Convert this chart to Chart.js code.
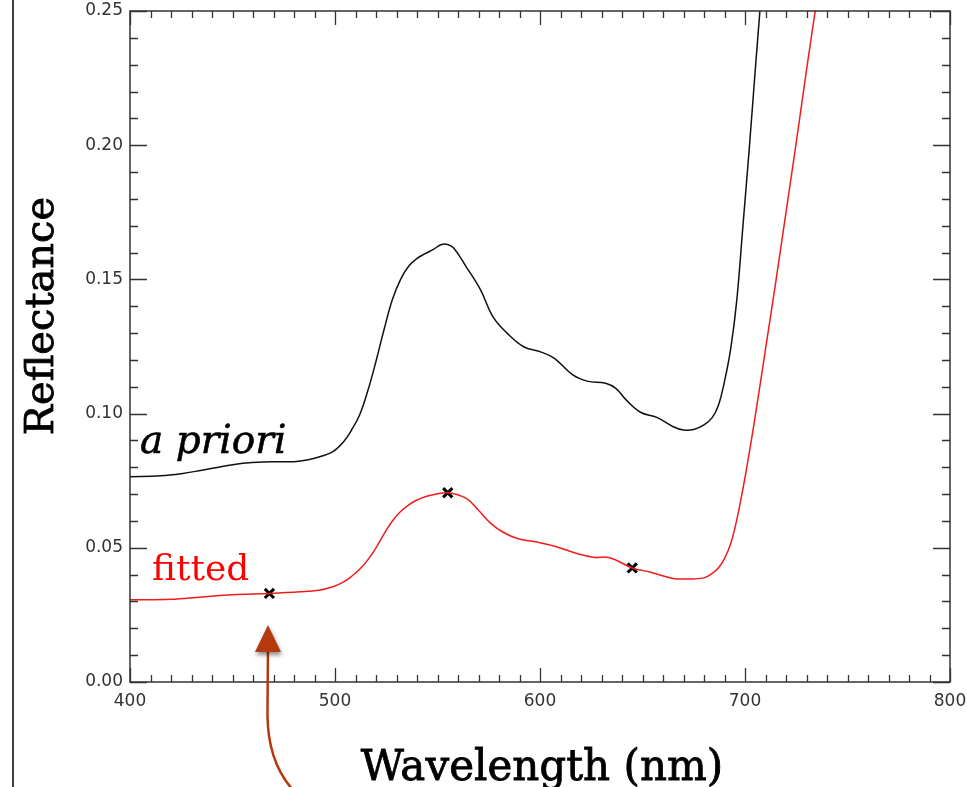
<!DOCTYPE html>
<html>
<head>
<meta charset="utf-8">
<script src="https://cdn.jsdelivr.net/npm/chart.js@4/dist/chart.umd.min.js"></script>
<style>
  body { margin: 0; background: #fff; }
  canvas { display: block; }
</style>
</head>
<body>
<canvas id="reflChart" width="967" height="787"></canvas>
<script>
// a priori spectrum (black)
var aprioriNm = [400, 415, 425, 435, 445, 455, 465, 480, 487, 493, 499, 504, 508, 512, 516, 520, 524, 528, 532, 536, 540, 544, 548, 552, 555, 558, 564, 571, 577, 584, 592, 600, 607, 616, 623, 632, 637, 642, 649, 657, 665, 670, 675, 680, 684, 687, 690, 693, 696, 699, 702, 705, 708];
var aprioriRefl = [0.0765, 0.0768, 0.0776, 0.0789, 0.0803, 0.0815, 0.0820, 0.0821, 0.0828, 0.0840, 0.0858, 0.0893, 0.0938, 0.0995, 0.1085, 0.1195, 0.1315, 0.1425, 0.1500, 0.1550, 0.1578, 0.1596, 0.1612, 0.1630, 0.1630, 0.1616, 0.1547, 0.1461, 0.1361, 0.1299, 0.1249, 0.1231, 0.1206, 0.1144, 0.1121, 0.1113, 0.1094, 0.1051, 0.1005, 0.0986, 0.0951, 0.0939, 0.0941, 0.0958, 0.0985, 0.1030, 0.1120, 0.1240, 0.1423, 0.170, 0.198, 0.228, 0.257];

// fitted spectrum (red)
var fittedNm = [400, 420, 435, 450, 468, 483, 492, 499, 504, 508, 512, 516, 520, 524, 528, 532, 536, 540, 544, 548, 555, 564, 570, 576, 582, 589, 600, 608, 618, 626, 634, 645, 654, 665, 672, 680, 684, 687, 690, 693, 696, 699, 702, 706, 710, 715, 720, 725, 730, 736];
var fittedRefl = [0.0306, 0.0308, 0.0317, 0.0325, 0.0330, 0.0336, 0.0342, 0.0355, 0.0372, 0.0393, 0.0420, 0.0455, 0.0500, 0.0553, 0.0600, 0.0635, 0.0660, 0.0678, 0.0690, 0.0698, 0.0705, 0.0684, 0.0640, 0.0591, 0.0558, 0.0535, 0.0519, 0.0504, 0.0479, 0.0465, 0.0463, 0.0425, 0.0409, 0.0386, 0.0384, 0.0388, 0.0405, 0.0425, 0.0460, 0.0515, 0.0605, 0.0720, 0.0850, 0.104, 0.124, 0.149, 0.175, 0.201, 0.228, 0.259];

// fit points (x marks)
var markNm = [468, 555, 645];
var markRefl = [0.0330, 0.0705, 0.0425];

// axes
var xTicks = [400, 500, 600, 700, 800];
var yTicks = [0.00, 0.05, 0.10, 0.15, 0.20, 0.25];

function toPoints(xs, ys) {
    return xs.map(function (x, i) { return { x: x, y: ys[i] }; });
}

// viết chữ có viền mảnh cho đậm hơn
function heavyText(ctx, txt, x, y, w) {
    ctx.fillText(txt, x, y);
    ctx.lineWidth = w;
    ctx.strokeStyle = ctx.fillStyle;
    ctx.strokeText(txt, x, y);
}

// khung, vạch chia, chữ và mũi tên
var decorPlugin = {
    id: 'decor',
    afterDatasetsDraw: function (chart) {
        var ctx = chart.ctx;
        var a = chart.chartArea;
        var xs = chart.scales.x, ys = chart.scales.y;
        ctx.save();

        // viền trái của slide
        ctx.strokeStyle = '#000';
        ctx.lineWidth = 1.5;
        ctx.beginPath();
        ctx.moveTo(13, 0);
        ctx.lineTo(13, chart.height);
        ctx.stroke();

        // khung
        ctx.strokeStyle = '#333';
        ctx.lineWidth = 1.5;
        ctx.strokeRect(a.left, a.top, a.right - a.left, a.bottom - a.top);

        // vạch chia trục x
        ctx.lineWidth = 1.3;
        ctx.beginPath();
        for (var nm = 400; nm <= 800; nm += 10) {
            var px = Math.round(xs.getPixelForValue(nm)) + 0.5;
            var len = (nm % 100 === 0) ? 14 : 7;
            ctx.moveTo(px, a.bottom); ctx.lineTo(px, a.bottom - len);
            ctx.moveTo(px, a.top); ctx.lineTo(px, a.top + len);
        }
        // vạch chia trục y
        for (var k = 0; k <= 25; k++) {
            var py = Math.round(ys.getPixelForValue(k / 100)) + 0.5;
            var l2 = (k % 5 === 0) ? 17 : 8;
            ctx.moveTo(a.left, py); ctx.lineTo(a.left + l2, py);
            ctx.moveTo(a.right, py); ctx.lineTo(a.right - l2, py);
        }
        ctx.stroke();

        // tiêu đề trục
        ctx.fillStyle = '#000';
        ctx.font = '42px "DejaVu Serif"';
        ctx.textAlign = 'center';
        ctx.textBaseline = 'alphabetic';
        heavyText(ctx, 'Wavelength (nm)', 542, 780, 0.8);

        ctx.save();
        ctx.translate(53, 316);
        ctx.rotate(-Math.PI / 2);
        ctx.font = '40px "DejaVu Serif"';
        heavyText(ctx, 'Reflectance', 0, 0, 0.8);
        ctx.restore();

        // nhãn đường cong
        ctx.textAlign = 'left';
        ctx.font = 'italic 39px "DejaVu Serif"';
        ctx.fillStyle = '#000';
        heavyText(ctx, 'a priori', xs.getPixelForValue(404.9), ys.getPixelForValue(0.0852), 0.6);
        ctx.font = '36px "DejaVu Serif"';
        ctx.fillStyle = '#ff0000';
        ctx.fillText('fitted', xs.getPixelForValue(410.7), ys.getPixelForValue(0.038));

        // mũi tên chỉ điểm đầu tiên
        var tx = xs.getPixelForValue(467.3);
        var ty = ys.getPixelForValue(0.0212);
        ctx.strokeStyle = '#b5390e';
        ctx.fillStyle = '#b5390e';
        ctx.lineWidth = 2.5;
        ctx.beginPath();
        ctx.moveTo(tx, ty + 22);
        ctx.lineTo(tx - 0.5, ty + 90);
        ctx.quadraticCurveTo(tx, ty + 140, tx + 28, ty + 168);
        ctx.stroke();
        ctx.shadowColor = 'rgba(0,0,0,0.45)';
        ctx.shadowBlur = 4;
        ctx.shadowOffsetX = 1;
        ctx.shadowOffsetY = 3;
        ctx.beginPath();
        ctx.moveTo(tx, ty);
        ctx.lineTo(tx + 13, ty + 27);
        ctx.lineTo(tx - 13, ty + 27);
        ctx.closePath();
        ctx.fill();

        ctx.restore();
    }
};

var chart = new Chart(document.getElementById('reflChart').getContext('2d'), {
    type: 'line',
    data: {
        datasets: [{
            label: 'a priori',
            data: toPoints(aprioriNm, aprioriRefl),
            borderColor: '#111',
            borderWidth: 1.5,
            pointRadius: 0,
            tension: 0.4
        }, {
            label: 'fitted',
            data: toPoints(fittedNm, fittedRefl),
            borderColor: '#f01c1c',
            borderWidth: 1.5,
            pointRadius: 0,
            tension: 0.4
        }, {
            type: 'scatter',
            label: 'fit points',
            data: toPoints(markNm, markRefl),
            pointStyle: 'crossRot',
            pointRadius: 6.5,
            pointBorderWidth: 3,
            pointBorderColor: '#000',
            showLine: false
        }]
    },
    options: {
        responsive: false,
        animation: false,
        layout: { padding: { left: 0, top: 11, right: 17, bottom: 0 } },
        plugins: {
            legend: { display: false },
            tooltip: { enabled: false }
        },
        scales: {
            x: {
                type: 'linear',
                min: 400,
                max: 800,
                afterBuildTicks: function (scale) {
                    scale.ticks = xTicks.map(function (v) { return { value: v }; });
                },
                afterFit: function (scale) {
                    scale.height = 105;
                    scale.paddingLeft = 0;
                    scale.paddingRight = 0;
                },
                grid: { display: false, drawTicks: false },
                border: { display: false },
                ticks: {
                    padding: 9,
                    color: '#333',
                    font: { family: 'DejaVu Sans', size: 17 },
                    maxRotation: 0
                }
            },
            y: {
                type: 'linear',
                min: 0,
                max: 0.25,
                afterBuildTicks: function (scale) {
                    scale.ticks = yTicks.map(function (v) { return { value: v }; });
                },
                afterFit: function (scale) {
                    scale.width = 130;
                    scale.paddingTop = 0;
                    scale.paddingBottom = 0;
                },
                grid: { display: false, drawTicks: false },
                border: { display: false },
                ticks: {
                    padding: 7,
                    color: '#333',
                    font: { family: 'DejaVu Sans', size: 17 },
                    callback: function (v) { return Number(v).toFixed(2); }
                }
            }
        }
    },
    plugins: [decorPlugin]
});
</script>
</body>
</html>
